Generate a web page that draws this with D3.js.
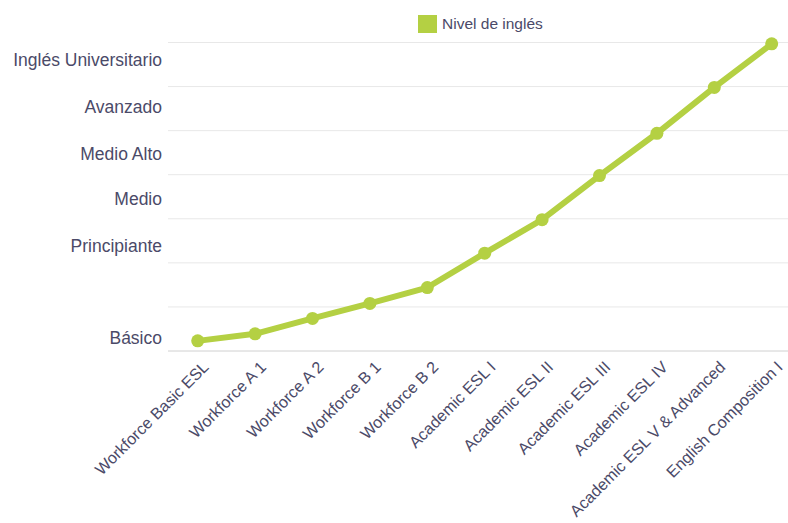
<!DOCTYPE html>
<html>
<head>
<meta charset="utf-8">
<script src="https://cdn.jsdelivr.net/npm/d3@7"></script>
<style>
  body { margin: 0; background: #fff; }
  svg { display: block; font-family: "Liberation Sans", Arial, sans-serif; }
</style>
</head>
<body>
<div id="chart"></div>
<script>
const courses = [
  'Workforce Basic ESL', 'Workforce A 1', 'Workforce A 2', 'Workforce B 1', 'Workforce B 2',
  'Academic ESL I', 'Academic ESL II', 'Academic ESL III', 'Academic ESL IV',
  'Academic ESL V & Advanced', 'English Composition I'
];
const levelValues = [0.23, 0.39, 0.74, 1.08, 1.44, 2.22, 2.98, 3.98, 4.94, 5.98, 6.97];
const levelNames = ['Básico', 'Principiante', 'Medio', 'Medio Alto', 'Avanzado', 'Inglés Universitario'];
const levelTicks = [0.3, 2.39, 3.45, 4.48, 5.55, 6.61];
const gridTicks = [1, 2, 3, 4, 5, 6, 7];
const seriesName = 'Nivel de inglés';

const width = 788, height = 523;
const green = '#b4d043';
const textColor = '#4b4a68';

const svg = d3.select('#chart').append('svg')
  .attr('width', width)
  .attr('height', height);

const x = d3.scalePoint().domain(courses).range([197.7, 771.7]);
const y = d3.scaleLinear().domain([0, 7]).range([351, 42.5]);

// grid
svg.append('g')
  .selectAll('line')
  .data(gridTicks)
  .enter().append('line')
  .attr('x1', 168).attr('x2', width)
  .attr('y1', d => y(d)).attr('y2', d => y(d))
  .attr('stroke', '#e8e8e8')
  .attr('stroke-width', 1);

svg.append('line')
  .attr('x1', 168).attr('x2', width)
  .attr('y1', y(0)).attr('y2', y(0))
  .attr('stroke', '#d0d0d0')
  .attr('stroke-width', 1);

// y labels
svg.append('g')
  .selectAll('text')
  .data(levelTicks)
  .enter().append('text')
  .attr('x', 162)
  .attr('y', d => y(d))
  .attr('dy', '0.35em')
  .attr('text-anchor', 'end')
  .attr('fill', textColor)
  .style('font-size', '17.5px')
  .text((d, i) => levelNames[i]);

// x labels
svg.append('g')
  .selectAll('text')
  .data(courses)
  .enter().append('text')
  .attr('transform', d => `translate(${x(d) + 8},${364}) rotate(-45)`)
  .attr('text-anchor', 'end')
  .attr('dy', '0.35em')
  .attr('fill', textColor)
  .style('font-size', '16.2px')
  .text(d => d);

// line
const line = d3.line()
  .x((d, i) => x(courses[i]))
  .y(d => y(d));

svg.append('path')
  .datum(levelValues)
  .attr('d', line)
  .attr('fill', 'none')
  .attr('stroke', green)
  .attr('stroke-width', 6)
  .attr('stroke-linejoin', 'round');

svg.append('g')
  .selectAll('circle')
  .data(levelValues)
  .enter().append('circle')
  .attr('cx', (d, i) => x(courses[i]))
  .attr('cy', d => y(d))
  .attr('r', 6.5)
  .attr('fill', green);

// legend
const legend = svg.append('g').attr('transform', 'translate(418,15)');
legend.append('rect')
  .attr('width', 19).attr('height', 18)
  .attr('fill', green);
legend.append('text')
  .attr('x', 24).attr('y', 9)
  .attr('dy', '0.35em')
  .attr('fill', textColor)
  .style('font-size', '15.5px')
  .text(seriesName);
</script>
</body>
</html>
